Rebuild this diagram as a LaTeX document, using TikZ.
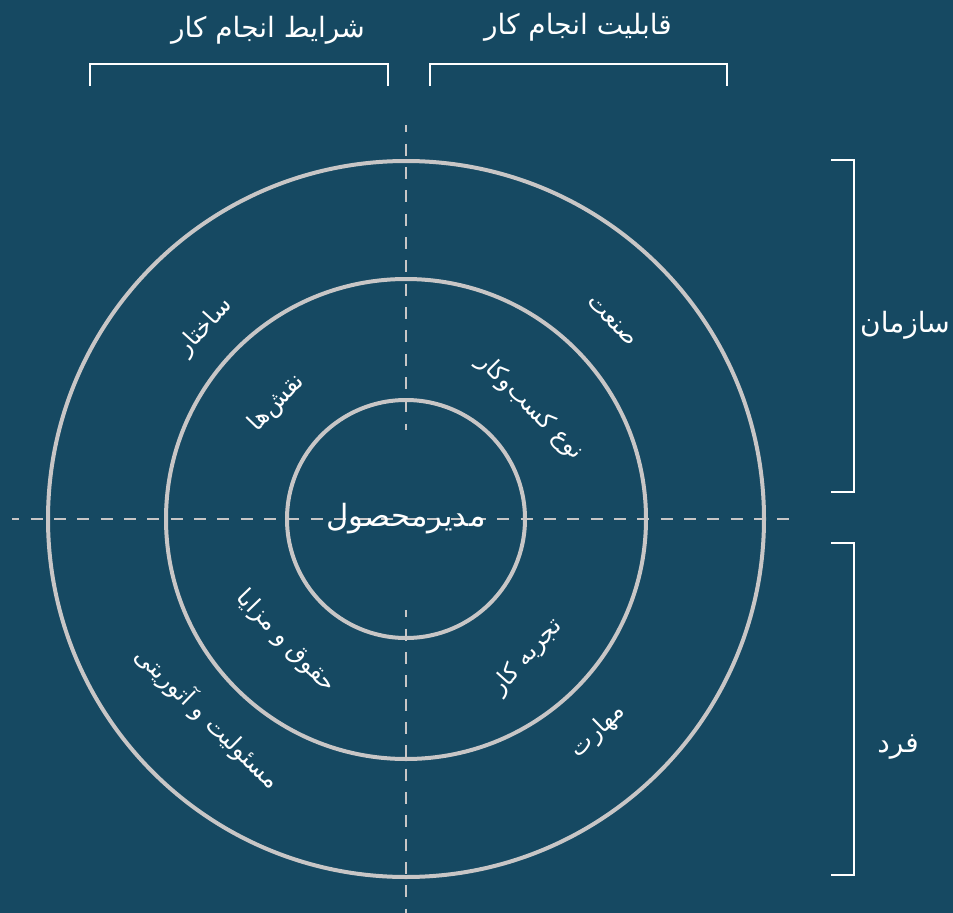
\documentclass[tikz,border=0pt]{standalone}
\usepackage{fontspec}
\newfontfamily\arabicfont[Script=Arabic]{DejaVu Sans}
\TeXXeTstate=1
\definecolor{bgteal}{RGB}{22,73,98}
\definecolor{ringgray}{RGB}{200,198,198}
\begin{document}
\begin{tikzpicture}[x=0.75pt,y=0.75pt,yscale=-1,xscale=1,
  ring/.style={draw=ringgray, line width=3pt},
  axisline/.style={draw=ringgray, line width=1.9pt, dash pattern=on 9pt off 8.5pt, dash phase=3.5pt},
  bracket/.style={draw=white, line width=0.9pt},
  head/.style={text=white, inner sep=0pt, font=\arabicfont\fontsize{21}{25}\selectfont},
  lbl/.style={text=white, inner sep=0pt, font=\arabicfont\fontsize{18}{22}\selectfont}]

\fill[bgteal] (0,0) rectangle (953,913);
\useasboundingbox (0,0) rectangle (953,913);

\coordinate (c) at (406,519);
\coordinate (vtop) at (406,125);
\coordinate (vtopend) at (406,430);
\coordinate (vbotstart) at (406,610);
\coordinate (vbot) at (406,913);
\coordinate (hleft) at (12,519);
\coordinate (hright) at (800,519);

% dashed axes
\draw[axisline] (hleft) -- (hright);
\draw[axisline] (vtop) -- (vtopend);
\draw[axisline] (vbotstart) -- (vbot);

% rings
\draw[ring] (c) circle [radius=358];
\draw[ring] (c) circle [radius=240];
\draw[ring] (c) circle [radius=119];

% brackets
\draw[bracket] (90,86) -- (90,64) -- (388,64) -- (388,86);
\draw[bracket] (430,86) -- (430,64) -- (727,64) -- (727,86);
\draw[bracket] (831,160) -- (854,160) -- (854,492) -- (831,492);
\draw[bracket] (831,543) -- (854,543) -- (854,875) -- (831,875);

\node[head] (conditions) at (268,30) {\beginR شرایط انجام کار\endR};
\node[head] (ability) at (578,27) {\beginR قابلیت انجام کار\endR};
\node[head] (organization) at (905,325) {\beginR سازمان\endR};
\node[head] (individual) at (898,747) {\beginR فرد\endR};

\node[head, font=\arabicfont\fontsize{23}{27}\selectfont] (pm) at (c) {\beginR مدیرمحصول\endR};

\node[lbl, rotate=48] (structure) at (205,327) {\beginR ساختار\endR};
\node[lbl, rotate=46] (roles) at (277,403) {\beginR نقش‌ها\endR};
\node[lbl, rotate=-46] (industry) at (612,321) {\beginR صنعت\endR};
\node[lbl, rotate=-45] (business) at (530,407) {\beginR نوع کسب‌وکار\endR};
\node[lbl, rotate=48] (experience) at (527,657) {\beginR تجربه کار\endR};
\node[lbl, rotate=44] (skill) at (598,731) {\beginR مهارت\endR};
\node[lbl, rotate=-46] (benefits) at (286,642) {\beginR حقوق و مزایا\endR};
\node[lbl, rotate=-44] (authority) at (208,718) {\beginR مسئولیت و آتوریتی\endR};

\end{tikzpicture}
\end{document}
